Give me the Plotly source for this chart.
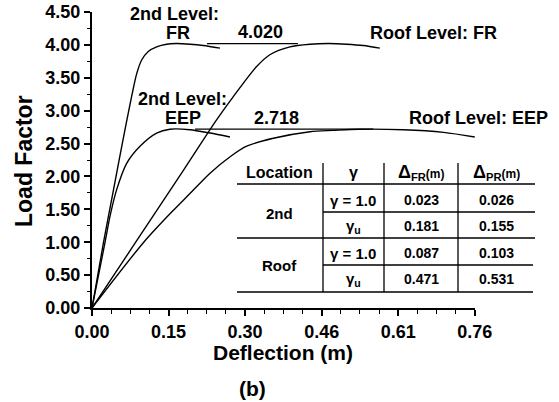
import plotly.graph_objects as go

# ---------------- data ----------------
fr2_d = [0, 0.023, 0.0424, 0.0623, 0.079, 0.0889, 0.0989, 0.112, 0.1287, 0.1486, 0.168, 0.195, 0.2215, 0.2547]
fr2_L = [0, 1.0, 1.78, 2.58, 3.22, 3.56, 3.77, 3.90, 3.97, 4.01, 4.02, 4.01, 3.99, 3.95]

eep2_d = [0, 0.026, 0.036, 0.0491, 0.069, 0.0955, 0.1287, 0.155, 0.195, 0.2348, 0.2746]
eep2_L = [0, 1.0, 1.40, 1.80, 2.20, 2.46, 2.66, 2.718, 2.71, 2.66, 2.60]

frr_d = [0, 0.087, 0.174, 0.248, 0.281, 0.3277, 0.354, 0.394, 0.434, 0.471, 0.507, 0.54, 0.573]
frr_L = [0, 1.0, 2.0, 2.86, 3.21, 3.67, 3.85, 3.97, 4.01, 4.02, 4.01, 3.99, 3.95]

eepr_d = [0, 0.103, 0.16, 0.195, 0.235, 0.275, 0.308, 0.361, 0.434, 0.48, 0.531, 0.62, 0.70, 0.762]
eepr_L = [0, 1.0, 1.47, 1.74, 2.05, 2.30, 2.46, 2.58, 2.68, 2.70, 2.718, 2.71, 2.67, 2.60]

peak_labels = ["4.020", "2.718"]
peak_values = [4.020, 2.718]
peak_line_start = [0.229, 0.205]
peak_line_end = [0.41, 0.56]

curve_labels = ["2nd Level:", "FR", "Roof Level: FR", "2nd Level:", "EEP", "Roof Level: EEP"]

x_tick_vals = [0, 0.1524, 0.3048, 0.4572, 0.6096, 0.762]
x_tick_text = ["0.00", "0.15", "0.30", "0.46", "0.61", "0.76"]

table_header = ["Location", "γ",
                "<span style='font-size:18px'>Δ</span><sub>FR</sub><span style='font-size:12px'>(m)</span>",
                "<span style='font-size:18px'>Δ</span><sub>PR</sub><span style='font-size:12px'>(m)</span>"]
table_locations = ["2nd", "Roof"]
table_gamma = ["γ = 1.0", "γ<sub>u</sub>"]
delta_fr = ["0.023", "0.181", "0.087", "0.471"]
delta_pr = ["0.026", "0.155", "0.103", "0.531"]

# ---------------- figure ----------------
W, H = 559, 402
L_M, R_M, T_M, B_M = 92, 84, 12, 94
PW, PH = W - L_M - R_M, H - T_M - B_M
FONT = "Liberation Sans, Arial, sans-serif"


def P(px, py):
    return (px - L_M) / PW, (H - B_M - py) / PH


fig = go.Figure()
for d, L in [(fr2_d, fr2_L), (eep2_d, eep2_L), (frr_d, frr_L), (eepr_d, eepr_L)]:
    fig.add_trace(go.Scatter(x=d, y=L, mode="lines", line=dict(color="black", width=1.4, shape="spline", smoothing=0.8),
                             showlegend=False, hoverinfo="skip"))

shapes = []
annotations = []


def txt(px, py, s, size, angle=0):
    x, y = P(px, py)
    annotations.append(dict(x=x, y=y, xref="paper", yref="paper", text=s, showarrow=False,
                            xanchor="center", yanchor="middle", textangle=angle,
                            font=dict(size=size, family=FONT, color="black", weight="bold")))


# peak lines + labels
label_px = [(260, 32), (276, 118)]
for v, s, e, lab, (lx, ly) in zip(peak_values, peak_line_start, peak_line_end, peak_labels, label_px):
    shapes.append(dict(type="line", xref="x", yref="y", x0=s, x1=e, y0=v, y1=v,
                       line=dict(color="black", width=1.3)))
    txt(lx, ly, lab, 18)

# curve labels
curve_label_px = [(174, 14), (178, 33), (433, 33), (182, 99), (183, 118), (478, 118)]
for lab, (lx, ly) in zip(curve_labels, curve_label_px):
    txt(lx, ly, lab, 18)

# axis titles
txt(24, 161, "Load Factor", 23, -90)
txt(283, 352, "Deflection (m)", 21)
txt(252, 388, "(b)", 21)

# table lines
hlines = [(184, 237, 535), (212, 323, 535), (238, 237, 535), (265, 323, 533), (292, 237, 533)]
for yy, xa, xb in hlines:
    x0, y0 = P(xa, yy)
    x1, _ = P(xb, yy)
    shapes.append(dict(type="line", xref="paper", yref="paper", x0=x0, x1=x1, y0=y0, y1=y0,
                       line=dict(color="black", width=1.6)))
for xx in [323, 384, 458]:
    x0, y0 = P(xx, 163)
    _, y1 = P(xx, 292)
    shapes.append(dict(type="line", xref="paper", yref="paper", x0=x0, x1=x0, y0=y0, y1=y1,
                       line=dict(color="black", width=1.3)))

col_x = [279, 353, 421, 496]
row_y = [200, 226, 253, 279]

for cx, h in zip(col_x, table_header):
    txt(cx, 173, h, 16)
txt(col_x[0], 213, table_locations[0], 15)
txt(col_x[0], 265, table_locations[1], 15)
for i, ry in enumerate(row_y):
    txt(col_x[1], ry, table_gamma[i % 2], 15)
    txt(col_x[2], ry, delta_fr[i], 14)
    txt(col_x[3], ry, delta_pr[i], 14)

tickfont = dict(size=18, family=FONT, color="black", weight="bold")
fig.update_layout(
    width=W, height=H, margin=dict(l=L_M, r=R_M, t=T_M, b=B_M, pad=0, autoexpand=False),
    paper_bgcolor="white", plot_bgcolor="white",
    shapes=shapes, annotations=annotations, showlegend=False,
    xaxis=dict(range=[0, 0.7625], tickvals=x_tick_vals, ticktext=x_tick_text, ticks="outside", automargin=False,
               ticklen=6, tickwidth=1.5, tickcolor="black", showline=True, linecolor="black", linewidth=2,
               showgrid=False, zeroline=False, tickfont=tickfont,
               minor=dict(tick0=0, dtick=0.0381, ticks="outside", ticklen=3.5, tickwidth=1.3, tickcolor="black",
                          showgrid=False)),
    yaxis=dict(range=[0, 4.5], tick0=0, dtick=0.5, tickformat=".2f", ticks="outside", automargin=False,
               ticklen=6, tickwidth=1.5, tickcolor="black", showline=True, linecolor="black", linewidth=2,
               showgrid=False, zeroline=False, tickfont=tickfont,
               minor=dict(tick0=0, dtick=0.25, ticks="outside", ticklen=3.5, tickwidth=1.3, tickcolor="black",
                          showgrid=False)),
)

fig.write_html("out.html")
